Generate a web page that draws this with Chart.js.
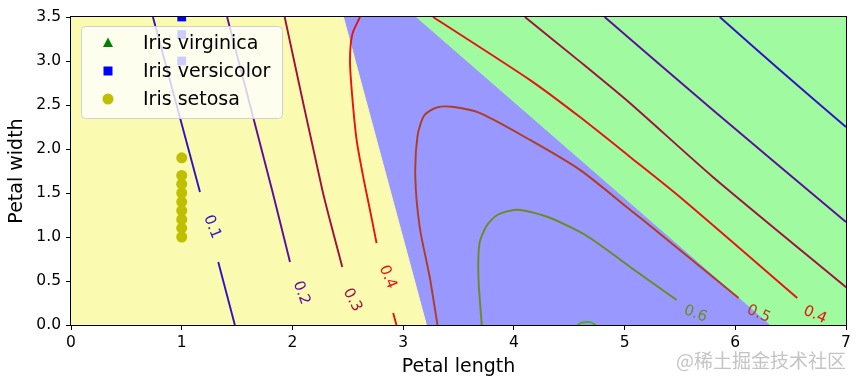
<!DOCTYPE html>
<html>
<head>
<meta charset="utf-8">
<script src="https://cdn.jsdelivr.net/npm/chart.js@4/dist/chart.umd.min.js"></script>
<style>
  html, body { margin: 0; padding: 0; background: #fff; }
</style>
</head>
<body>
<canvas id="chart" width="860" height="387"></canvas>
<script>
// axis ticks
const xTicks = [0, 1, 2, 3, 4, 5, 6, 7];
const yTicks = [0, 0.5, 1, 1.5, 2, 2.5, 3, 3.5];

// samples (petal length, petal width)
const setosaX = [1, 1, 1, 1, 1, 1, 1, 1, 1];
const setosaY = [1.0, 1.1, 1.2, 1.3, 1.4, 1.5, 1.6, 1.7, 1.9];
const versicolorX = [1, 1, 1];
const versicolorY = [3.0, 3.3, 3.5];
const virginicaX = [];
const virginicaY = [];

// decision regions: upper edge of each filled area
const greenEdge = [[0, 3.5], [7, 3.5]];
const blueEdge = [[0, 3.5], [3.11, 3.5], [6.31, 0]];
const yellowEdge = [[0, 3.5], [2.46, 3.5], [3.21, 0]];

// contour lines of the versicolor probability
const levels = ['0.1', '0.2', '0.3', '0.4', '0.5', '0.6', '0.7'];
const contour01 = [
  [[0.74, 3.5], [1.165, 1.51]],
  [[1.33, 0.716], [1.48, 0]],
  [[5.86, 3.5], [6.40, 2.90], [7.0, 2.25]]
];
const contour02 = [
  [[1.41, 3.5], [1.816, 1.534], [1.978, 0.716]],
  [[4.82, 3.5], [5.80, 2.44], [7.0, 1.17]]
];
const contour03 = [
  [[1.93, 3.5], [2.27, 1.534], [2.45, 0.66]],
  [[4.10, 3.5], [4.60, 2.99], [5.05, 2.52], [5.80, 1.68], [7.0, 0.43]]
];
const contour04 = [
  [[2.61, 3.5], [2.54, 3.3], [2.52, 3.0], [2.54, 2.6], [2.58, 2.1], [2.64, 1.68], [2.70, 1.31], [2.76, 0.93]],
  [[2.91, 0.136], [2.94, 0]],
  [[3.27, 3.5], [4.15, 2.78], [4.60, 2.36], [5.05, 1.91], [5.50, 1.455], [6.56, 0.307]]
];
const contour05 = [
  [[3.31, 0], [3.24, 0.545], [3.15, 1.11], [3.11, 1.68], [3.13, 2.15], [3.19, 2.38], [3.30, 2.47], [3.44, 2.48], [3.69, 2.41], [4.15, 2.10], [4.60, 1.76], [5.05, 1.31], [5.20, 1.16], [6.03, 0.307]]
];
const contour06 = [
  [[3.71, 0], [3.68, 0.545], [3.69, 0.93], [3.75, 1.12], [3.85, 1.25], [4.03, 1.31], [4.30, 1.23], [4.65, 1.02], [5.05, 0.66], [5.47, 0.284]]
];
const contour07 = [
  [[4.57, 0], [4.62, 0.028], [4.69, 0.032], [4.74, 0]]
];

// contour label spots (data coords) and rotation in degrees
const clabelX = [1.274, 2.08, 2.54, 2.86, 5.64, 6.21, 6.72];
const clabelY = [1.114, 0.364, 0.284, 0.545, 0.125, 0.125, 0.114];
const clabelText = ['0.1', '0.2', '0.3', '0.4', '0.6', '0.5', '0.4'];
const clabelAngle = [68, 70, 62, 68, 20, 24, 24];

const levelColors = {
  '0.1': '#3410c4', '0.2': '#5e0c9e', '0.3': '#a0103e', '0.4': '#e81212',
  '0.5': '#b03c22', '0.6': '#6e8a1e', '0.7': '#4cb026'
};

const toPts = arr => arr.map(p => ({x: p[0], y: p[1]}));
const zipPts = (xs, ys) => xs.map((x, i) => ({x: x, y: ys[i]}));

const regionSet = (label, edge, color, order) => ({
  label: label, data: toPts(edge), showLine: true, fill: 'start',
  backgroundColor: color, borderColor: color, borderWidth: 1,
  pointRadius: 0, order: order, clip: 0
});

const datasets = [
  regionSet('green', greenEdge, '#a0faa0', 30),
  regionSet('blue', blueEdge, '#9898ff', 29),
  regionSet('yellow', yellowEdge, '#fafab0', 28)
];

const contours = [contour01, contour02, contour03, contour04, contour05, contour06, contour07];
contours.forEach((segs, i) => {
  segs.forEach(seg => {
    datasets.push({
      label: 'p=' + levels[i], data: toPts(seg), showLine: true, fill: false,
      borderColor: levelColors[levels[i]], borderWidth: 1.9, tension: 0.25,
      pointRadius: 0, order: 10, clip: 0
    });
  });
});

const species = [
  {label: 'Iris virginica', data: zipPts(virginicaX, virginicaY), color: '#008000', style: 'triangle', r: 5},
  {label: 'Iris versicolor', data: zipPts(versicolorX, versicolorY), color: '#0000ff', style: 'rect', r: 6.2},
  {label: 'Iris setosa', data: zipPts(setosaX, setosaY), color: '#bfbf00', style: 'circle', r: 5.5}
];
species.forEach(s => {
  datasets.push({
    label: s.label, data: s.data, showLine: false,
    pointStyle: s.style, pointRadius: s.r, backgroundColor: s.color,
    borderWidth: 0, order: 1, clip: 0, species: true
  });
});

const FONT = "'DejaVu Sans', sans-serif";

const decorations = {
  id: 'decorations',
  afterDatasetsDraw(chart) {
    const ctx = chart.ctx;
    const xs = chart.scales.x, ys = chart.scales.y;
    const area = chart.chartArea;

    // contour labels
    ctx.save();
    ctx.font = '15px ' + FONT;
    ctx.textAlign = 'center';
    ctx.textBaseline = 'middle';
    clabelText.forEach((t, i) => {
      ctx.save();
      ctx.translate(xs.getPixelForValue(clabelX[i]), ys.getPixelForValue(clabelY[i]));
      ctx.rotate(clabelAngle[i] * Math.PI / 180);
      ctx.fillStyle = levelColors[t];
      ctx.fillText(t, 0, 0);
      ctx.restore();
    });
    ctx.restore();

    // legend, upper left inside the axes
    const bx = area.left + 10, by = area.top + 9, bw = 201, bh = 92;
    ctx.save();
    ctx.beginPath();
    ctx.roundRect(bx + 0.5, by + 0.5, bw, bh, 4);
    ctx.fillStyle = 'rgba(255,255,255,0.8)';
    ctx.fill();
    ctx.strokeStyle = '#d0d0d0';
    ctx.lineWidth = 1;
    ctx.stroke();
    ctx.font = '19px ' + FONT;
    ctx.textBaseline = 'middle';
    ctx.textAlign = 'left';
    chart.data.datasets.filter(d => d.species).forEach((d, i) => {
      const cy = by + 17 + i * 28;
      const mx = bx + 27;
      ctx.fillStyle = d.backgroundColor;
      ctx.beginPath();
      if (d.pointStyle === 'triangle') {
        ctx.moveTo(mx, cy - 5.5);
        ctx.lineTo(mx + 5, cy + 4);
        ctx.lineTo(mx - 5, cy + 4);
        ctx.closePath();
      } else if (d.pointStyle === 'rect') {
        ctx.rect(mx - 4.5, cy - 4.5, 9, 9);
      } else {
        ctx.arc(mx, cy, 5.5, 0, Math.PI * 2);
      }
      ctx.fill();
      ctx.fillStyle = '#000';
      ctx.fillText(d.label, bx + 62, cy + 1);
    });
    ctx.restore();

    // axes frame
    ctx.save();
    ctx.strokeStyle = '#000';
    ctx.lineWidth = 1;
    ctx.strokeRect(Math.round(area.left) - 0.5, Math.round(area.top) - 0.5,
      Math.round(area.right - area.left) + 1, Math.round(area.bottom - area.top) + 1);
    ctx.restore();
  },
  afterDraw(chart) {
    const ctx = chart.ctx;
    ctx.save();
    ctx.font = "19px 'Noto Sans CJK SC', sans-serif";
    ctx.textAlign = 'right';
    ctx.textBaseline = 'middle';
    ctx.fillStyle = '#c4c4c4';
    ctx.fillText('@稀土掘金技术社区', 846, 361);
    ctx.restore();
  }
};

new Chart(document.getElementById('chart'), {
  type: 'scatter',
  data: {datasets: datasets},
  options: {
    responsive: false,
    animation: false,
    devicePixelRatio: 1,
    events: [],
    layout: {padding: {top: 17, right: 14, left: 0, bottom: 0}},
    plugins: {legend: {display: false}, tooltip: {enabled: false}},
    scales: {
      x: {
        type: 'linear', min: 0, max: 7,
        afterBuildTicks: scale => { scale.ticks = xTicks.map(v => ({value: v})); },
        afterFit: scale => { scale.height = 62; },
        grid: {drawOnChartArea: false, drawTicks: true, tickLength: 5, color: '#000'},
        border: {display: false},
        ticks: {color: '#000', font: {family: FONT, size: 15.5}, padding: 4, maxRotation: 0, autoSkip: false},
        title: {display: true, text: 'Petal length', color: '#000', font: {family: FONT, size: 19}, padding: {top: 0, bottom: 9}}
      },
      y: {
        type: 'linear', min: 0, max: 3.5,
        afterBuildTicks: scale => { scale.ticks = yTicks.map(v => ({value: v})); },
        afterFit: scale => { scale.width = 71; },
        grid: {drawOnChartArea: false, drawTicks: true, tickLength: 5, color: '#000'},
        border: {display: false},
        ticks: {color: '#000', font: {family: FONT, size: 15.5}, padding: 5, autoSkip: false,
          callback: v => Number(v).toFixed(1)},
        title: {display: true, text: 'Petal width', color: '#000', font: {family: FONT, size: 19}, padding: {top: 6, bottom: 0}}
      }
    }
  },
  plugins: [decorations]
});
</script>
</body>
</html>
